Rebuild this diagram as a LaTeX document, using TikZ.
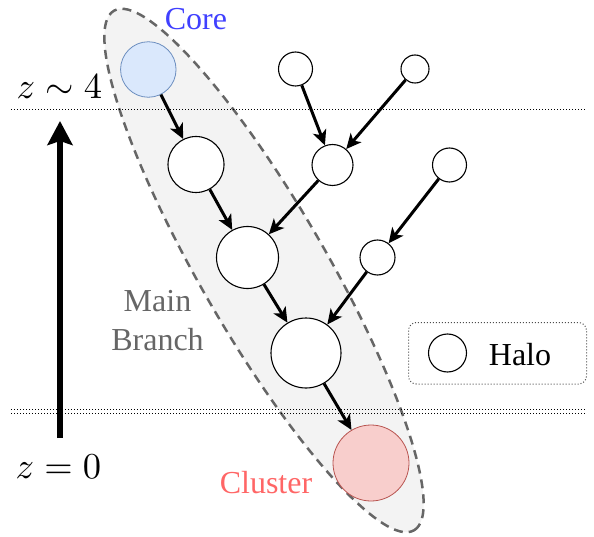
\RequirePackage{fix-cm}
\documentclass[tikz,border=0pt]{standalone}
\usepackage{fontspec}
\setmainfont{Liberation Serif}
\usetikzlibrary{arrows.meta}
\definecolor{coreFill}{HTML}{DAE8FC}
\definecolor{coreLine}{HTML}{6C8EBF}
\definecolor{clFill}{HTML}{F8CECC}
\definecolor{clLine}{HTML}{B85450}
\definecolor{coreText}{HTML}{4040FF}
\definecolor{clText}{HTML}{FF6666}
\definecolor{grayText}{HTML}{666666}
\definecolor{ellFill}{HTML}{F3F3F3}
\tikzset{
  halo/.style={circle, draw=black, line width=1.1pt, fill=white, inner sep=0pt, minimum size=#1},
  link/.style={line width=3pt, -{Stealth[length=15pt,width=14pt,inset=4pt]}, shorten >=0pt},
  lbl/.style={font=\fontsize{32}{39}\selectfont, inner sep=0pt},
  mth/.style={font=\fontsize{10}{12}\selectfont, inner sep=0pt, scale=3.65},
  zline/.style={dotted, line width=1pt}
}
\begin{document}
\begin{tikzpicture}[x=1pt,y=-1pt]
\useasboundingbox (0,0) rectangle (594,537);
% main branch ellipse
\draw[fill=ellFill, draw=grayText, line width=2.5pt, dash pattern=on 9pt off 6pt, rotate around={-60:(264,270.5)}]
  (264,270.5) ellipse [x radius=300pt, y radius=63pt];
% redshift lines
\coordinate (l4a) at (11,110);
\coordinate (l4b) at (585,110);
\coordinate (l0a) at (11,409.5);
\coordinate (l0b) at (585,409.5);
\coordinate (l0c) at (11,413);
\coordinate (l0d) at (585,413);
\draw[zline] (l4a) -- (l4b);
\draw[zline] (l0a) -- (l0b);
\draw[zline] (l0c) -- (l0d);
% time arrow
\coordinate (ta) at (60,438);
\coordinate (tb) at (60,121);
\draw[line width=5.5pt, -{Stealth[length=24pt,width=25pt,inset=4pt]}] (ta) -- (tb);
\node[mth, anchor=base west] (z4) at (16,99) {$z\sim4$};
\node[mth, anchor=base west] (z0) at (15,478) {$z=0$};
% halos
\node[halo=55.5pt, fill=coreFill, draw=coreLine, line width=0.8pt] (core) at (148.3,69.5) {};
\node[halo=56pt] (a) at (196,164.5) {};
\node[halo=62pt] (b) at (247.5,257.5) {};
\node[halo=70pt] (c) at (306,353) {};
\node[halo=76pt, fill=clFill, draw=clLine, line width=0.8pt] (cl) at (371,463) {};
\node[halo=34pt] (t1) at (295.5,69) {};
\node[halo=28pt] (t2) at (415,69) {};
\node[halo=41pt] (m) at (332.5,165) {};
\node[halo=34pt] (r1) at (449.5,165) {};
\node[halo=35pt] (r2) at (377.5,257.5) {};
% links
\draw[link] (core) -- (a);
\draw[link] (a) -- (b);
\draw[link] (b) -- (c);
\draw[link] (c) -- (cl);
\draw[link] (t1) -- (m);
\draw[link] (t2) -- (m);
\draw[link] (m) -- (b);
\draw[link] (r1) -- (r2);
\draw[link] (r2) -- (c);
% labels
\node[lbl, text=coreText, anchor=base] (coreL) at (196,30) {Core};
\node[lbl, text=clText, anchor=base] (clL) at (266,493) {Cluster};
\node[lbl, text=grayText, anchor=base] (mainL) at (157.5,311) {Main};
\node[lbl, text=grayText, anchor=base] (branchL) at (157.5,350) {Branch};
% legend
\draw[draw=black!70, dotted, line width=1pt, rounded corners=8pt] (408.5,322.5) rectangle (586.5,384) ;
\node[halo=38pt] (lh) at (447.5,353) {};
\node[lbl, anchor=base] (haloL) at (520,365) {Halo};
\end{tikzpicture}
\end{document}
